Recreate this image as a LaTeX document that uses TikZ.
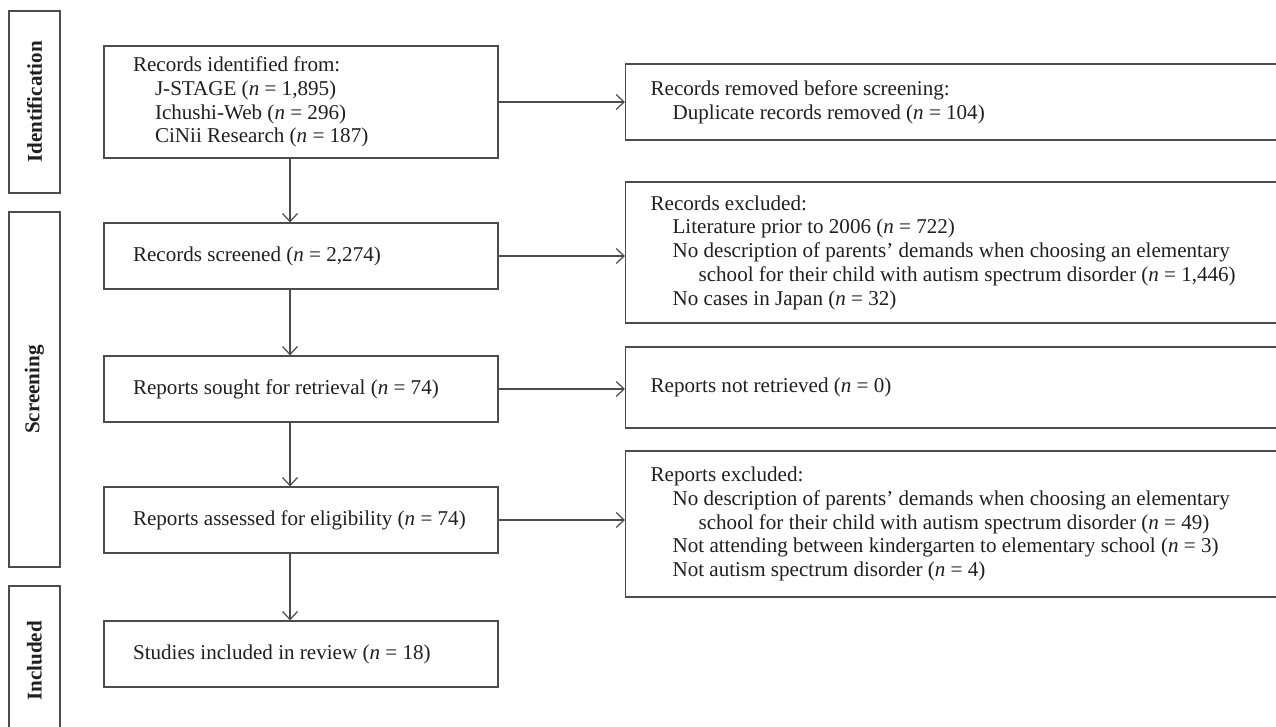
\documentclass[tikz,border=0pt]{standalone}
\usepackage{fontspec}
\setmainfont{Liberation Serif}
\usetikzlibrary{arrows.meta, positioning}
\colorlet{lineGray}{black!70}
\tikzset{
    flowBox/.style={
        draw=lineGray,
        line width=0.7pt,
        align=flush left,
        text=black!88,
        font=\fontsize{12pt}{13.5pt}\selectfont
    },
    leftBox/.style={flowBox, text width=6.72cm, inner xsep=0.58cm, minimum height=1.32cm},
    sideBox/.style={flowBox, anchor=west, text width=12.6cm, inner xsep=0.5cm},
    phaseBox/.style={
        draw=lineGray,
        line width=0.7pt,
        rotate=90,
        minimum height=1.02cm,
        text=black!88,
        font=\bfseries\fontsize{12pt}{13pt}\selectfont
    },
    flowArrow/.style={->, draw=lineGray, line width=0.7pt}
}
\newcommand{\ind}{\hspace*{0.44cm}}
\newcommand{\indd}{\hspace*{0.96cm}}

\begin{document}
\begin{tikzpicture}[x=0.02cm, y=-0.02cm, >={Straight Barb[length=1.6mm, width=3mm]}]
            \useasboundingbox (0,0) rectangle (1276,727);
            \clip (0,0) rectangle (1276,727);

            % Phase bars
            \node[phaseBox, minimum width=3.64cm] (phaseId) at (34.5,102) {Identification};
            \node[phaseBox, minimum width=7.1cm] (phaseScr) at (34.5,389.5) {Screening};
            \node[phaseBox, minimum width=3cm] (phaseInc) at (34.5,661) {Included};

            % Main column
            \node[leftBox, minimum height=2.24cm] (identified) at (301,102) {Records identified from:\\
                \ind J-STAGE (\textit{n} = 1,895)\\
                \ind Ichushi-Web (\textit{n} = 296)\\
                \ind CiNii Research (\textit{n} = 187)};
            \node[leftBox] (screened) at (301,256) {Records screened (\textit{n} = 2,274)};
            \node[leftBox] (sought) at (301,389) {Reports sought for retrieval (\textit{n} = 74)};
            \node[leftBox] (assessed) at (301,520) {Reports assessed for eligibility (\textit{n} = 74)};
            \node[leftBox] (included) at (301,654) {Studies included in review (\textit{n} = 18)};
            \coordinate (downX) at (290,0);

            % Side column
            \node[sideBox, minimum height=1.52cm] (removed) at (625,102) {Records removed before screening:\\
                \ind Duplicate records removed (\textit{n} = 104)};
            \node[sideBox, minimum height=2.82cm] (recExcl) at (625,252.5) {Records excluded:\\
                \ind Literature prior to 2006 (\textit{n} = 722)\\
                \ind No description of parents’ demands when choosing an elementary\\
                \indd school for their child with autism spectrum disorder (\textit{n} = 1,446)\\
                \ind No cases in Japan (\textit{n} = 32)};
            \node[sideBox, minimum height=1.62cm] (notRetr) at (625,387.5) {Reports not retrieved (\textit{n} = 0)};
            \node[sideBox, minimum height=2.92cm] (repExcl) at (625,524) {Reports excluded:\\
                \ind No description of parents’ demands when choosing an elementary\\
                \indd school for their child with autism spectrum disorder (\textit{n} = 49)\\
                \ind Not attending between kindergarten to elementary school (\textit{n} = 3)\\
                \ind Not autism spectrum disorder (\textit{n} = 4)};

            % Arrows down
            \draw[flowArrow] (identified.south -| downX) -- (screened.north -| downX);
            \draw[flowArrow] (screened.south -| downX) -- (sought.north -| downX);
            \draw[flowArrow] (sought.south -| downX) -- (assessed.north -| downX);
            \draw[flowArrow] (assessed.south -| downX) -- (included.north -| downX);

            % Arrows right
            \draw[flowArrow] (identified.east) -- (identified.east -| removed.west);
            \draw[flowArrow] (screened.east) -- (screened.east -| recExcl.west);
            \draw[flowArrow] (sought.east) -- (sought.east -| notRetr.west);
            \draw[flowArrow] (assessed.east) -- (assessed.east -| repExcl.west);
        \end{tikzpicture}
\end{document}
